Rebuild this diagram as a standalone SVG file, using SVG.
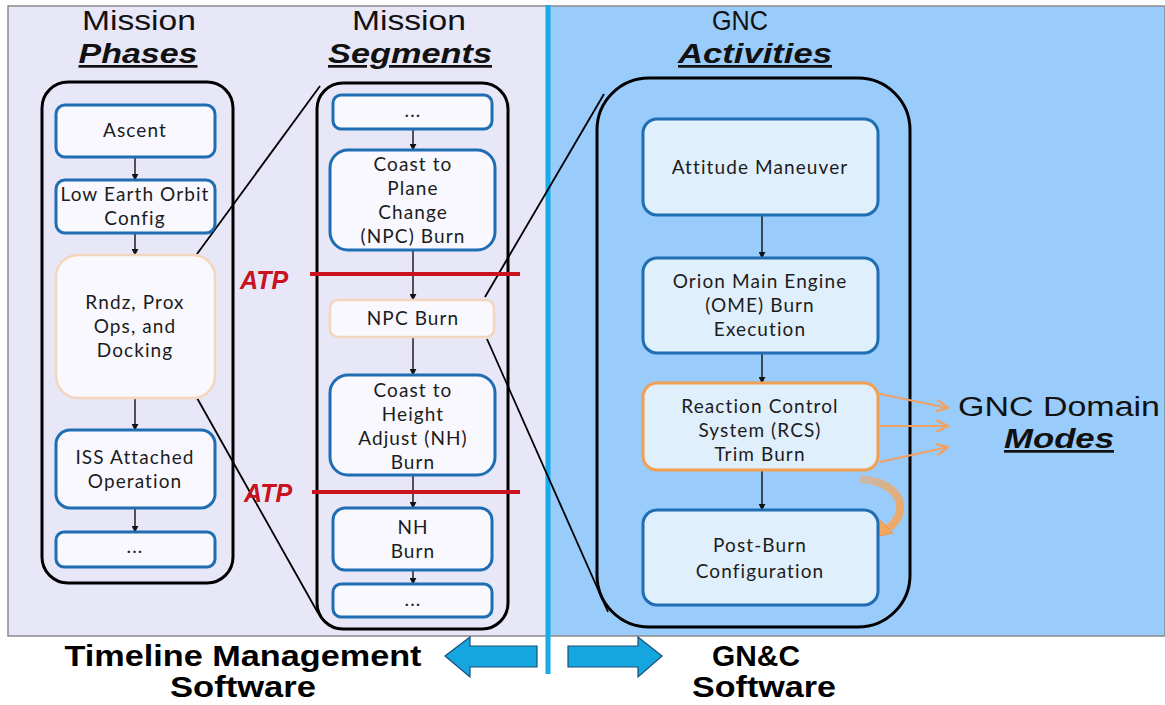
<svg xmlns="http://www.w3.org/2000/svg" width="1165" height="705" viewBox="0 0 1165 705">
  <style>
    .title { font-family: "Liberation Sans", Arial, sans-serif; fill: #111; }
    .reg { font-size: 27px; }
    .emph { font-size: 27px; font-weight: bold; font-style: italic; text-decoration: underline; }
    .box { fill: #f8f8fe; stroke: #1f6db3; stroke-width: 3; }
    .boxAlt { fill: #f8f8fe; stroke: #f5d6bc; stroke-width: 2.5; }
    .gbox { fill: #e0effc; stroke: #1f6db3; stroke-width: 3; }
    .gboxAlt { fill: #e0effc; stroke: #f0a050; stroke-width: 3; }
    .frame { fill: none; stroke: #000; stroke-width: 3; }
    .lbl { font-family: Lato, "Open Sans", sans-serif; font-size: 19px; letter-spacing: 1.1px; fill: #1c1c1c; text-anchor: middle; }
    .flow { stroke: #111; stroke-width: 1.4; fill: none; marker-end: url(#tri); }
    .zoom { stroke: #000; stroke-width: 1.8; fill: none; }
    .atp { stroke: #c8121e; stroke-width: 4; }
    .atpTxt { font-family: "Liberation Sans", Arial, sans-serif; font-size: 25px; font-weight: bold; font-style: italic; fill: #c8121e; }
    .mode { stroke: #efa265; stroke-width: 2; fill: none; marker-end: url(#vee); }
    .big { font-family: "Liberation Sans", Arial, sans-serif; font-weight: bold; font-size: 29px; fill: #000; text-anchor: middle; }
    .bigArrow { fill: #15a6df; stroke: #1c4d78; stroke-width: 1.2; }
  </style>
  <defs>
    <marker id="tri" viewBox="0 0 10 10" refX="9" refY="5" markerWidth="7" markerHeight="7" markerUnits="userSpaceOnUse" orient="auto">
      <path d="M0,0 L10,5 L0,10 Z" fill="#111"/>
    </marker>
    <marker id="vee" viewBox="0 0 12 12" refX="11" refY="6" markerWidth="14" markerHeight="14" markerUnits="userSpaceOnUse" orient="auto">
      <path d="M1,1 L11,6 L1,11" fill="none" stroke="#efa265" stroke-width="2"/>
    </marker>
    <linearGradient id="curveGrad" x1="0" y1="0" x2="1" y2="1">
      <stop offset="0" stop-color="#c9b8a8"/>
      <stop offset="1" stop-color="#f2a75e"/>
    </linearGradient>
  </defs>

  <!-- panels -->
  <rect x="0" y="0" width="1165" height="705" fill="#ffffff"/>
  <rect x="8" y="6" width="541" height="630" fill="#e7e7f8" stroke="#8a8a8a" stroke-width="1.5"/>
  <rect x="549" y="6" width="616" height="630" fill="#99cbfb" stroke="#8a8a8a" stroke-width="1.5"/>
  <line x1="548" y1="5" x2="548" y2="674" stroke="#18abe8" stroke-width="5"/>

  <!-- column headings -->
  <g id="head-phases">
    <text class="title reg" x="139" y="30" text-anchor="middle" textLength="114" lengthAdjust="spacingAndGlyphs">Mission</text>
    <text class="title emph" x="138" y="63" text-anchor="middle" textLength="119" lengthAdjust="spacingAndGlyphs">Phases</text>
  </g>
  <g id="head-segments">
    <text class="title reg" x="409" y="30" text-anchor="middle" textLength="114" lengthAdjust="spacingAndGlyphs">Mission</text>
    <text class="title emph" x="410" y="63" text-anchor="middle" textLength="164" lengthAdjust="spacingAndGlyphs">Segments</text>
  </g>
  <g id="head-activities">
    <text class="title reg" x="740" y="30" text-anchor="middle" textLength="56" lengthAdjust="spacingAndGlyphs">GNC</text>
    <text class="title emph" x="755" y="63" text-anchor="middle" textLength="154" lengthAdjust="spacingAndGlyphs">Activities</text>
  </g>

  <!-- containers -->
  <g id="phases-frame"><rect class="frame" x="42" y="82" width="191" height="501" rx="26"/></g>
  <g id="segments-frame"><rect class="frame" x="317" y="83" width="191" height="546" rx="26"/></g>
  <g id="activities-frame"><rect class="frame" x="597" y="78" width="313" height="549" rx="52"/></g>

  <!-- connectors -->
  <g id="connectors">
    <!-- expansion lines -->
    <line class="zoom" x1="197" y1="254" x2="320" y2="86"/>
    <line class="zoom" x1="197" y1="398" x2="318" y2="613"/>
    <line class="zoom" x1="485" y1="297" x2="604" y2="94"/>
    <line class="zoom" x1="487" y1="339" x2="608" y2="612"/>
    <!-- phase flow -->
    <line class="flow" x1="135" y1="158" x2="135" y2="180"/>
    <line class="flow" x1="135" y1="234" x2="135" y2="255"/>
    <line class="flow" x1="135" y1="399" x2="135" y2="430"/>
    <line class="flow" x1="135" y1="509" x2="135" y2="532"/>
    <!-- segment flow -->
    <line class="flow" x1="413" y1="130" x2="413" y2="150"/>
    <line class="flow" x1="413" y1="251" x2="413" y2="300"/>
    <line class="flow" x1="413" y1="338" x2="413" y2="375"/>
    <line class="flow" x1="413" y1="476" x2="413" y2="508"/>
    <line class="flow" x1="413" y1="571" x2="413" y2="584"/>
    <!-- activity flow -->
    <line class="flow" x1="762" y1="216" x2="762" y2="258"/>
    <line class="flow" x1="762" y1="354" x2="762" y2="383"/>
    <line class="flow" x1="762" y1="471" x2="762" y2="510"/>
    <!-- mode arrows -->
    <line class="mode" x1="880" y1="394" x2="948" y2="408"/>
    <line class="mode" x1="880" y1="426" x2="948" y2="426"/>
    <line class="mode" x1="880" y1="462" x2="948" y2="447"/>
    <!-- return to configuration -->
    <path d="M860,479 C904,482 910,514 887,529" fill="none" stroke="url(#curveGrad)" stroke-width="8"/>
    <path d="M872,538 L879,519 L893,533 Z" fill="#f2a75e" stroke="#e9985a" stroke-width="1"/>
  </g>

  <!-- ATP gates -->
  <g id="atp-1">
    <line class="atp" x1="310" y1="274" x2="520" y2="274"/>
    <text class="atpTxt" x="240" y="289">ATP</text>
  </g>
  <g id="atp-2">
    <line class="atp" x1="312" y1="492" x2="520" y2="492"/>
    <text class="atpTxt" x="244" y="502">ATP</text>
  </g>

  <!-- mission phases -->
  <g id="ascent">
    <rect class="box" x="56" y="105" width="159" height="52" rx="9"/>
    <text class="lbl" x="135" y="137">Ascent</text>
  </g>
  <g id="leo-config">
    <rect class="box" x="56" y="180" width="159" height="53" rx="9"/>
    <text class="lbl" x="135" y="201">Low Earth Orbit</text>
    <text class="lbl" x="135" y="225">Config</text>
  </g>
  <g id="rndz">
    <rect class="boxAlt" x="56" y="255" width="159" height="143" rx="22"/>
    <text class="lbl" x="135" y="309">Rndz, Prox</text>
    <text class="lbl" x="135" y="333">Ops, and</text>
    <text class="lbl" x="135" y="357">Docking</text>
  </g>
  <g id="iss-attached">
    <rect class="box" x="56" y="430" width="159" height="78" rx="14"/>
    <text class="lbl" x="135" y="464">ISS Attached</text>
    <text class="lbl" x="135" y="488">Operation</text>
  </g>
  <g id="phases-more">
    <rect class="box" x="56" y="532" width="159" height="35" rx="8"/>
    <text class="lbl" x="135" y="553">...</text>
  </g>

  <!-- mission segments -->
  <g id="seg-more-top">
    <rect class="box" x="333" y="95" width="159" height="34" rx="8"/>
    <text class="lbl" x="413" y="117">...</text>
  </g>
  <g id="coast-npc">
    <rect class="box" x="330" y="150" width="165" height="100" rx="18"/>
    <text class="lbl" x="413" y="171">Coast to</text>
    <text class="lbl" x="413" y="195">Plane</text>
    <text class="lbl" x="413" y="219">Change</text>
    <text class="lbl" x="413" y="243">(NPC) Burn</text>
  </g>
  <g id="npc-burn">
    <rect class="boxAlt" x="330" y="300" width="164" height="37" rx="8"/>
    <text class="lbl" x="413" y="325">NPC Burn</text>
  </g>
  <g id="coast-nh">
    <rect class="box" x="330" y="375" width="165" height="100" rx="18"/>
    <text class="lbl" x="413" y="397">Coast to</text>
    <text class="lbl" x="413" y="421">Height</text>
    <text class="lbl" x="413" y="445">Adjust (NH)</text>
    <text class="lbl" x="413" y="469">Burn</text>
  </g>
  <g id="nh-burn">
    <rect class="box" x="333" y="508" width="159" height="62" rx="12"/>
    <text class="lbl" x="413" y="534">NH</text>
    <text class="lbl" x="413" y="558">Burn</text>
  </g>
  <g id="seg-more-bottom">
    <rect class="box" x="333" y="584" width="159" height="33" rx="8"/>
    <text class="lbl" x="413" y="606">...</text>
  </g>

  <!-- GNC activities -->
  <g id="attitude-maneuver">
    <rect class="gbox" x="643" y="119" width="235" height="96" rx="14"/>
    <text class="lbl" x="760" y="174">Attitude Maneuver</text>
  </g>
  <g id="ome-burn">
    <rect class="gbox" x="643" y="258" width="235" height="95" rx="14"/>
    <text class="lbl" x="760" y="288">Orion Main Engine</text>
    <text class="lbl" x="760" y="312">(OME) Burn</text>
    <text class="lbl" x="760" y="336">Execution</text>
  </g>
  <g id="rcs-trim">
    <rect class="gboxAlt" x="643" y="383" width="235" height="87" rx="14"/>
    <text class="lbl" x="760" y="413">Reaction Control</text>
    <text class="lbl" x="760" y="437">System (RCS)</text>
    <text class="lbl" x="760" y="461">Trim Burn</text>
  </g>
  <g id="post-burn">
    <rect class="gbox" x="643" y="510" width="235" height="95" rx="14"/>
    <text class="lbl" x="760" y="552">Post-Burn</text>
    <text class="lbl" x="760" y="578">Configuration</text>
  </g>

  <!-- modes label -->
  <g id="domain-modes">
    <text class="title reg" x="1059" y="416" text-anchor="middle" textLength="202" lengthAdjust="spacingAndGlyphs">GNC Domain</text>
    <text class="title emph" x="1059" y="448" text-anchor="middle" textLength="110" lengthAdjust="spacingAndGlyphs">Modes</text>
  </g>

  <!-- software split -->
  <g id="timeline-sw">
    <path class="bigArrow" d="M445,656 L470,637 L470,646 L537,646 L537,667 L470,667 L470,677 Z"/>
    <text class="big" x="243" y="666" textLength="357" lengthAdjust="spacingAndGlyphs">Timeline Management</text>
    <text class="big" x="243" y="697" textLength="146" lengthAdjust="spacingAndGlyphs">Software</text>
  </g>
  <g id="gnc-sw">
    <path class="bigArrow" d="M662,656 L638,637 L638,646 L568,646 L568,667 L638,667 L638,677 Z"/>
    <text class="big" x="756" y="666" textLength="88" lengthAdjust="spacingAndGlyphs">GN&amp;C</text>
    <text class="big" x="764" y="697" textLength="144" lengthAdjust="spacingAndGlyphs">Software</text>
  </g>
</svg>
